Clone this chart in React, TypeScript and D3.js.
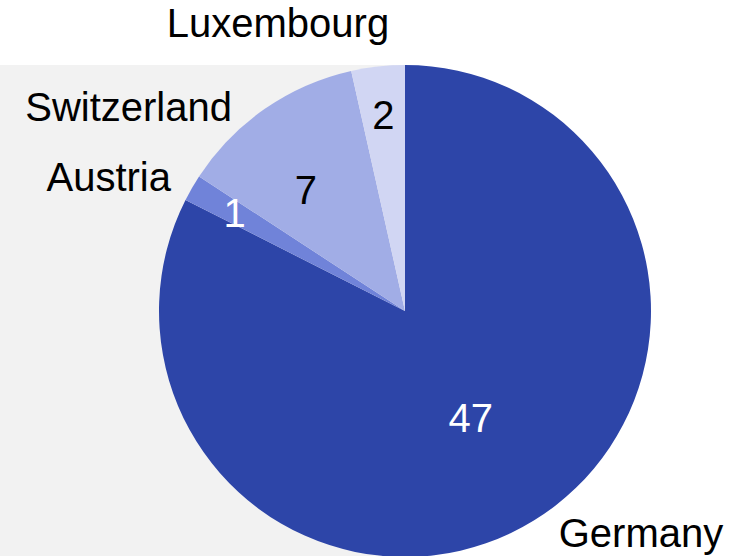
import React from "react";
import * as d3 from "d3";

const countries = ["Germany", "Austria", "Switzerland", "Luxembourg"];
const values = [47, 1, 7, 2];
const colors = ["#2d45a8", "#7083d9", "#a1ade6", "#d1d6f3"];
const valueColors = ["#ffffff", "#ffffff", "#000000", "#000000"];
// label radius as fraction of pie radius (per slice) and small nudges
const valueRadius = [0.51, 0.8, 0.65, 0.8];
const valueNudge: [number, number][] = [[0, 0], [0, 0], [-8, 10], [0, 0]];
// outside name labels: baseline offsets from pie centre and anchor
const nameOffsets: [number, number][] = [[236, 236], [-234, -120], [-173, -190], [-127, -274]];
const nameAnchors = ["middle", "end", "end", "middle"];

const W = 742;
const H = 556;
const cx = 405;
const cy = 311;
const R = 246;

export default function App() {
  const pie = d3.pie<number>().sort(null).value((d) => d);
  const arcs = pie(values);
  const arc = d3.arc<d3.PieArcDatum<number>>().innerRadius(0).outerRadius(R);
  const font = "'Liberation Sans', Arial, sans-serif";
  return (
    <svg width={W} height={H} style={{ position: "absolute", left: 0, top: 0 }} fontFamily={font}>
      <rect x={0} y={cy - R} width={cx} height={H - (cy - R)} fill="#f2f2f2" />
      <g transform={`translate(${cx},${cy})`}>
        {arcs.map((a, i) => (
          <path key={i} d={arc(a) || ""} fill={colors[i]} />
        ))}
        {arcs.map((a, i) => {
          const r = R * valueRadius[i];
          const c = d3.arc<d3.PieArcDatum<number>>().innerRadius(r).outerRadius(r).centroid(a);
          return (
            <text key={"v" + i} x={c[0] + valueNudge[i][0]} y={c[1] + valueNudge[i][1]} dy="0.35em" textAnchor="middle" fontSize={40} fill={valueColors[i]}>
              {values[i]}
            </text>
          );
        })}
        {countries.map((n, i) => (
          <text key={"n" + i} x={nameOffsets[i][0]} y={nameOffsets[i][1]} textAnchor={nameAnchors[i]} fontSize={40} fill="#000">
            {n}
          </text>
        ))}
      </g>
    </svg>
  );
}
